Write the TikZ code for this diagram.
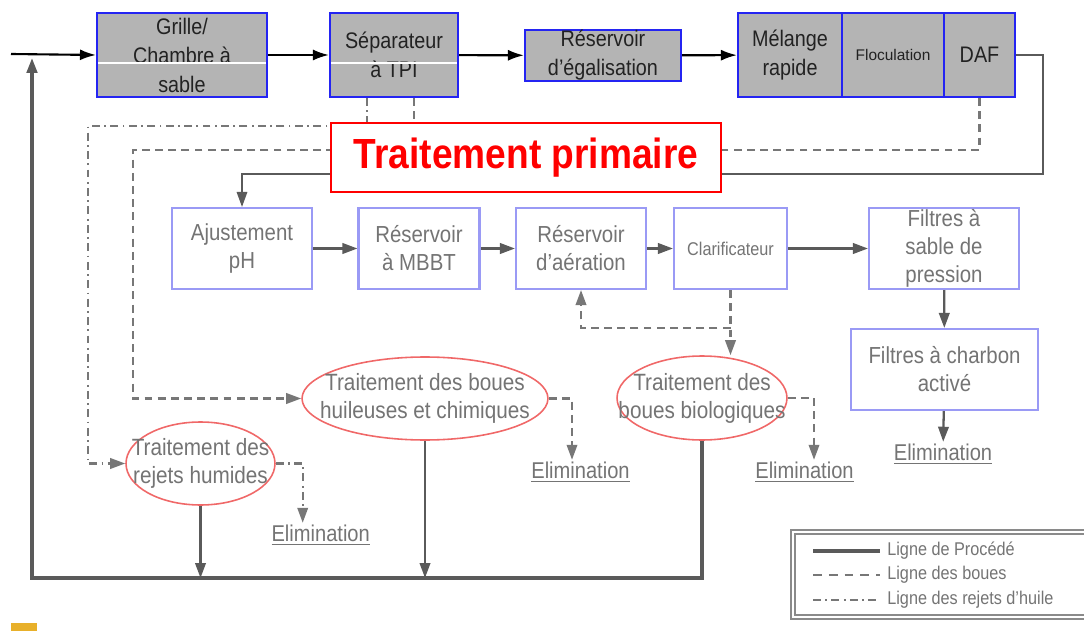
\documentclass[tikz,border=0pt]{standalone}
\usepackage{fontspec}
\setmainfont{Liberation Sans}[FakeStretch=0.88]
\newfontfamily\flocfont{Liberation Sans}
\usetikzlibrary{calc, positioning}
\usetikzlibrary{arrows.meta}
\usetikzlibrary{shapes.geometric}
\usetikzlibrary{backgrounds}

\definecolor{topfill}{HTML}{B4B4B4}
\definecolor{topedge}{HTML}{2424F2}
\definecolor{toptext}{HTML}{222222}
\definecolor{midedge}{HTML}{9A9AF5}
\definecolor{pitedge}{HTML}{F06868}
\definecolor{txtgray}{HTML}{747474}
\definecolor{linegray}{HTML}{5A5A5A}
\definecolor{dashgray}{HTML}{777777}
\definecolor{legedge}{HTML}{8A8A8A}
\definecolor{iconyellow}{HTML}{E8B02A}

\begin{document}
\begin{tikzpicture}[x=0.02cm,y=-0.02cm,line join=miter,
  topbox/.style={draw=topedge,fill=topfill,line width=1.2pt,minimum height=1.68cm,
    inner sep=0pt,align=center,text=toptext,font=\fontsize{12.8}{16.5}\selectfont},
  midbox/.style={draw=midedge,fill=white,line width=1.2pt,minimum height=1.62cm,
    inner sep=0pt,align=center,text=txtgray,font=\fontsize{13.2}{16}\selectfont},
  sludgepit/.style={ellipse,draw=pitedge,fill=white,line width=0.9pt,inner sep=0pt},
  pittext/.style={align=center,text=txtgray,inner sep=0pt,font=\fontsize{13.4}{16}\selectfont},
  elim/.style={text=txtgray,inner sep=1pt,font=\fontsize{13}{15}\selectfont},
  legtext/.style={anchor=west,text=txtgray,inner sep=0pt,font=\fontsize{10.5}{12}\selectfont},
  feed/.style={line width=1.2pt,black,-{Latex[length=3.2mm,width=2.2mm]}},
  proc/.style={line width=1.3pt,linegray},
  sludge/.style={line width=1.2pt,dashgray,dash pattern=on 4.5pt off 3pt},
  oil/.style={line width=1.2pt,dashgray,dash pattern=on 4.5pt off 2.5pt on 1pt off 2.5pt},
  tip/.style={-{Triangle[length=3mm,width=2.1mm]}}]
\path[use as bounding box] (0,0) rectangle (1084,631);
\clip (0,0) rectangle (1084,631);

% pretreatment line
\node[topbox,minimum width=3.4cm] (grille) at (182,55) {Grille/\\Chambre à\\sable};
\node[topbox,minimum width=2.56cm] (sep) at (394,55) {Séparateur\\à TPI};
\node[topbox,minimum width=3.12cm,minimum height=0.94cm] (egal) at (603,55.5) {Réservoir\\d’égalisation};
\node[topbox,minimum width=2.08cm] (melange) at (790,55) {Mélange\\rapide};
\node[topbox,minimum width=2.04cm,font=\flocfont\fontsize{8.8}{10}\selectfont] (floc) at (893,55) {Floculation};
\node[topbox,minimum width=1.42cm] (daf) at (979.5,55) {DAF};

\coordinate (stripe) at (0,63);
\draw[white,line width=0.9pt] ($(grille.west|-stripe)+(2,0)$) -- ($(grille.east|-stripe)+(-2,0)$);
\draw[white,line width=0.9pt] ($(sep.west|-stripe)+(2,0)$) -- ($(sep.east|-stripe)+(-2,0)$);

\node[draw=red,fill=white,line width=1.2pt,minimum width=7.8cm,minimum height=1.38cm,
  text=red,font=\bfseries\fontsize{24}{28}\selectfont] (primaire) at (526,157.5) {Traitement primaire};

% biological and polishing line
\node[midbox,minimum width=2.8cm] (ajust) at (242,248.5) {Ajustement\\pH};
\node[midbox,minimum width=2.42cm] (mbbt) at (419,248.5) {Réservoir\\à MBBT};
\node[midbox,minimum width=2.6cm] (aera) at (581,248.5) {Réservoir\\d’aération};
\node[midbox,minimum width=2.26cm,font=\fontsize{10.5}{12}\selectfont] (clarif) at (730.5,248.5) {Clarificateur};
\node[midbox,minimum width=3cm] (sable) at (944,248.5) {Filtres à\\sable de\\pression};
\node[midbox,minimum width=3.74cm] (charbon) at (944.5,369.5) {Filtres à charbon\\activé};

% sludge and reject treatment
\node[sludgepit,minimum width=4.92cm,minimum height=1.66cm] (huile) at (425,398.5) {};
\node[pittext] at (huile) {Traitement des boues\\huileuses et chimiques};
\node[sludgepit,minimum width=3.4cm,minimum height=1.68cm] (bio) at (702,398) {};
\node[pittext] at (bio) {Traitement des\\boues biologiques};
\node[sludgepit,minimum width=2.98cm,minimum height=1.66cm] (rejets) at (200.5,463.5) {};
\node[pittext] at (rejets) {Traitement des\\rejets humides};

\node[elim] (elimA) at (320.7,535) {\underline{Elimination}};
\node[elim] (elimB) at (580.5,472) {\underline{Elimination}};
\node[elim] (elimC) at (804.5,472) {\underline{Elimination}};
\node[elim] (elimD) at (943,454) {\underline{Elimination}};

\begin{scope}[on background layer]
\coordinate (feedin) at (11,54);
\draw[feed] (feedin) -- (grille.west);
\draw[feed] (grille) -- (sep);
\draw[feed] (sep) -- (egal);
\draw[feed] (egal) -- (melange);

\coordinate (dafturn) at (1043,174);
\draw[proc,line width=0.9pt,tip] (daf.east) -| (dafturn) -| (ajust.north);

\coordinate (sepoil) at ($(sep.south)+(-27,0)$);
\coordinate (sepsludge) at ($(sep.south)+(20,0)$);
\draw[oil,tip] (sepoil) |- (88,126) |- (rejets.west);
\draw[sludge,tip] (sepsludge) |- (133,150) |- (huile.west);
\draw[sludge] (daf.south) |- (600,150);

\draw[proc,tip] (ajust) -- (mbbt);
\draw[proc,tip] (mbbt) -- (aera);
\draw[proc,tip] (aera) -- (clarif);
\draw[proc,tip] (clarif) -- (sable);
\draw[proc,tip] (sable) -- (charbon);
\draw[proc,tip] (charbon) -- (elimD);

\coordinate (recycle) at (0,328);
\draw[sludge,tip] (clarif.south) -- (clarif.south |- bio.north);
\draw[sludge,tip] (clarif.south |- recycle) -| (aera.south);
\draw[sludge,tip] (huile.east) -| ($(elimB.north)+(-8.5,0)$);
\draw[sludge,tip] (bio.east) -| ($(elimC.north)+(9.5,0)$);
\draw[oil,tip] (rejets.east) -| ($(elimA.north)+(-18,0)$);

\coordinate (retbot) at (32,578);
\coordinate (retin) at (32,58);
\draw[proc,tip] (rejets.south) -- (rejets.south |- retbot);
\draw[proc,tip] (huile.south) -- (huile.south |- retbot);
\draw[proc,line width=1.8pt,tip] (bio.south) |- (retbot) -- (retin);
\end{scope}

% legend
\draw[legedge,line width=0.8pt,double=white,double distance=1.4pt] (793,532) rectangle (1100,617);
\draw[linegray,line width=1.8pt] (813,551) -- (880,551);
\draw[sludge,dash pattern=on 5pt off 4pt] (813,575) -- (880,575);
\draw[oil] (813,600) -- (880,600);
\node[legtext] (legproc) at (887,551) {Ligne de Procédé};
\node[legtext] (legboue) at (887,575) {Ligne des boues};
\node[legtext] (leghuile) at (887,600) {Ligne des rejets d’huile};

\fill[iconyellow] (11,623) rectangle (37,631);
\end{tikzpicture}
\end{document}
